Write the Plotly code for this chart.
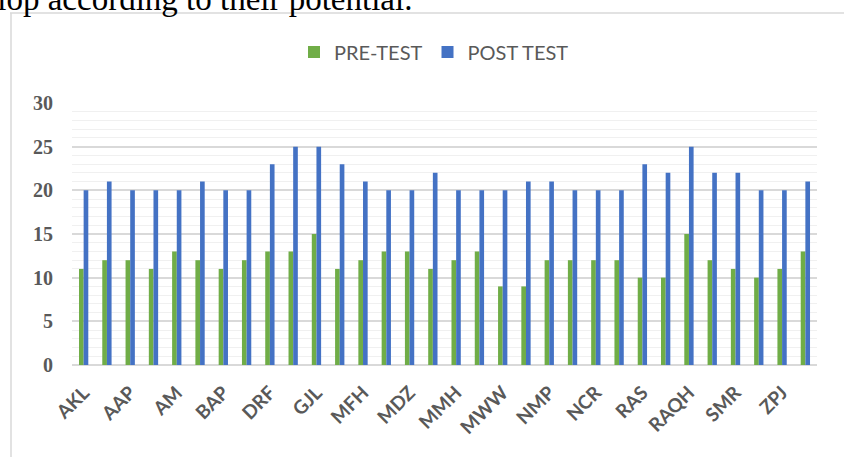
import plotly.graph_objects as go

# ---- data ----
tick_labels = ["AKL", "AAP", "AM", "BAP", "DRF", "GJL", "MFH", "MDZ",
               "MMH", "MWW", "NMP", "NCR", "RAS", "RAQH", "SMR", "ZPJ"]
pre_test = [11, 12, 12, 11, 13, 12, 11, 12, 13, 13, 15, 11, 12, 13, 13, 11,
            12, 13, 9, 9, 12, 12, 12, 12, 10, 10, 15, 12, 11, 10, 11, 13]
post_test = [20, 21, 20, 20, 20, 21, 20, 20, 23, 25, 25, 23, 21, 20, 20, 22,
             20, 20, 20, 21, 21, 20, 20, 20, 23, 22, 25, 22, 22, 20, 20, 21]
series_names = ["PRE-TEST", "POST TEST"]

positions = list(range(len(pre_test)))
tick_positions = positions[::2]

W, H = 844, 457
L, R, T, B = 72, 817, 103, 365


def px(x):
    return (x - L) / (R - L)


def py(y):
    return (B - y) / (B - T)


fig = go.Figure()
fig.add_trace(go.Bar(x=positions, y=pre_test, name=series_names[0],
                     marker=dict(color="#70AD47", line=dict(width=0))))
fig.add_trace(go.Bar(x=positions, y=post_test, name=series_names[1],
                     marker=dict(color="#4472C4", line=dict(width=0))))

grey = "#595959"
fig.update_layout(
    width=W, height=H,
    margin=dict(l=L, r=W - R, t=T, b=H - B, autoexpand=False),
    paper_bgcolor="white", plot_bgcolor="white",
    barmode="group", bargap=0.6, bargroupgap=0,
    showlegend=True,
    legend=dict(orientation="h", x=px(294), xanchor="left", y=py(52), yanchor="middle",
                font=dict(family="Lato", size=20, color=grey),
                itemwidth=30, traceorder="normal"),
    xaxis=dict(range=[-0.5, len(pre_test) - 0.5], tickmode="array",
               tickvals=tick_positions, ticktext=tick_labels, tickangle=-45,
               tickfont=dict(family="Lato", size=19, color=grey, weight="bold"),
               showgrid=False, showline=False, zeroline=False, ticks="",
               ticklabelstandoff=12, automargin=False),
    yaxis=dict(range=[0, 30], dtick=5, tick0=0,
               tickfont=dict(family="Liberation Serif", size=20, color=grey, weight="bold"),
               gridcolor="#d9d9d9", gridwidth=1.5,
               minor=dict(dtick=1, showgrid=True, gridcolor="#f0f0f0", gridwidth=1),
               zeroline=True, zerolinecolor="#d9d9d9", zerolinewidth=1.5,
               showline=False, ticks="", ticklabelstandoff=18, automargin=False),
    shapes=[
        dict(type="line", xref="paper", yref="paper", x0=px(10), x1=px(844),
             y0=py(13), y1=py(13), line=dict(color="#d9d9d9", width=1.5), layer="below"),
        dict(type="line", xref="paper", yref="paper", x0=px(11), x1=px(11),
             y0=py(13), y1=py(457), line=dict(color="#d9d9d9", width=1.5), layer="below"),
    ],
    annotations=[
        dict(text="develop according to their potential.", xref="paper", yref="paper",
             x=px(414), y=py(19), xanchor="right", yanchor="bottom", showarrow=False,
             font=dict(family="Liberation Serif", size=33, color="#000000")),
    ],
)

fig.write_html("out.html", config={"displayModeBar": False},
               post_script="document.body.style.margin='0';document.body.style.overflow='hidden';")
